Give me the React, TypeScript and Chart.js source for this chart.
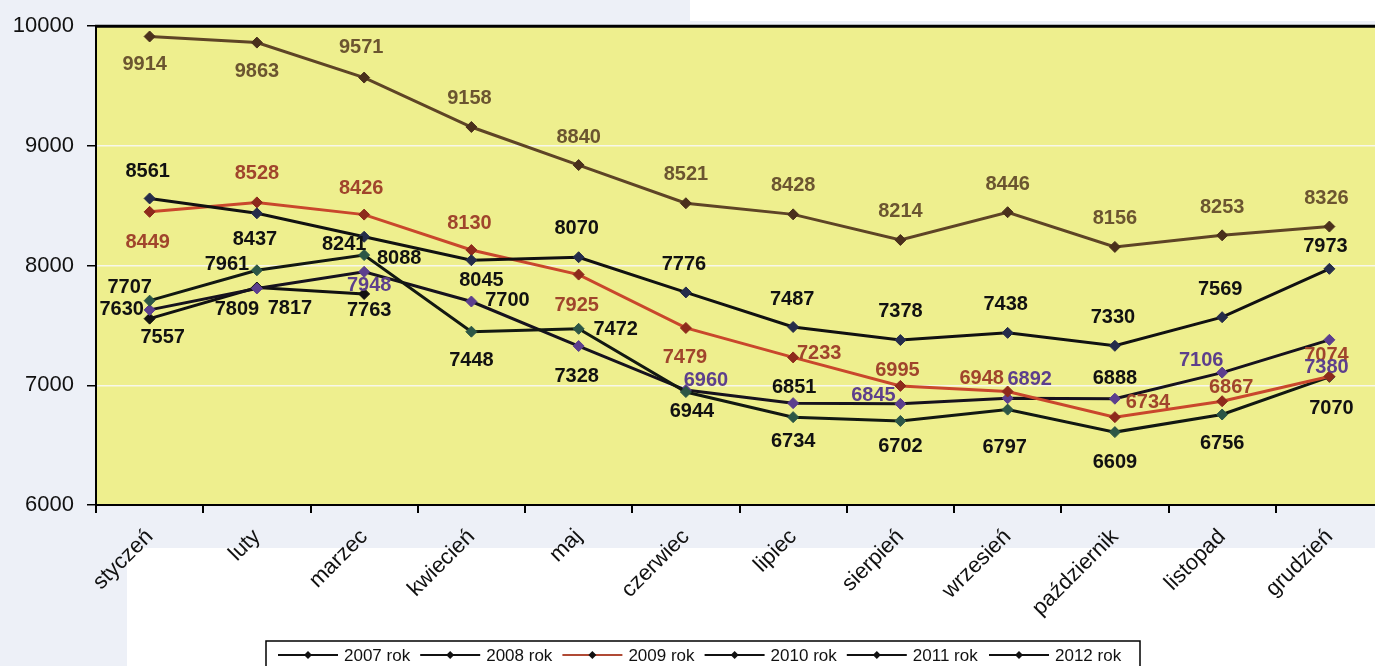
import React, { useEffect, useRef } from 'react';
import { Chart, registerables } from 'chart.js';

Chart.register(...registerables);

// ---- data ----
const months = ['styczeń', 'luty', 'marzec', 'kwiecień', 'maj', 'czerwiec', 'lipiec', 'sierpień', 'wrzesień', 'październik', 'listopad', 'grudzień'];
const seriesNames = ['2007 rok', '2008 rok', '2009 rok', '2010 rok', '2011 rok', '2012 rok'];
const y2007 = [9914, 9863, 9571, 9158, 8840, 8521, 8428, 8214, 8446, 8156, 8253, 8326];
const y2008 = [8561, 8437, 8241, 8045, 8070, 7776, 7487, 7378, 7438, 7330, 7569, 7973];
const y2009 = [8449, 8528, 8426, 8130, 7925, 7479, 7233, 6995, 6948, 6734, 6867, 7074];
const y2010 = [7707, 7961, 8088, 7448, 7472, 6944, 6734, 6702, 6797, 6609, 6756, 7070];
const y2011 = [7630, 7809, 7948, 7700, 7328, 6960, 6851, 6845, 6892, 6888, 7106, 7380];
const y2012 = [7557, 7817, 7763];
const yMin = 6000;
const yMax = 10000;
const yStep = 1000;

// ---- styling (label placement relative to each marker, in px) ----
const labelOffsets: number[][][] = [
  [[-5, 28], [0, 29], [-3, -30], [-2, -29], [0, -28], [0, -29], [0, -29], [0, -28], [0, -28], [0, -28], [0, -28], [-3, -28]],
  [[-2, -27], [-2, 26], [-20, 8], [10, 20], [-2, -29], [-2, -28], [-1, -28], [0, -29], [-2, -28], [-2, -28], [-2, -28], [-4, -22]],
  [[-2, 31], [0, -29], [-3, -26], [-2, -27], [-2, 31], [-1, 30], [26, -4], [-3, -15], [-26, -13], [33, -15], [9, -14], [-3, -21]],
  [[-20, -13], [-30, -6], [35, 3], [0, 29], [37, 1], [6, 19], [0, 24], [0, 26], [-3, 38], [0, 30], [0, 29], [2, 32]],
  [[-28, 0], [-20, 21], [5, 14], [36, -1], [-2, 30], [20, -10], [1, -16], [-27, -8], [22, -19], [0, -20], [-21, -12], [-3, 28]],
  [[13, 19], [33, 21], [5, 17]],
];
const P = '#5d3f8c';
const labelColors: string[][] = [
  Array(12).fill('#6b5530'),
  Array(12).fill('#111111'),
  Array(12).fill('#a0452c'),
  Array(12).fill('#111111'),
  ['#111', '#111', P, '#111', '#111', P, '#111', P, P, '#111', P, P],
  Array(3).fill('#111111'),
];
const lineColors = ['#5e4426', '#111111', '#c9472c', '#121812', '#16121e', '#111111'];
const pointColors = ['#4a301c', '#252c4a', '#8e2a1c', '#2c5646', '#5c3f8e', '#111111'];
const legendLineColors = ['#111', '#111', '#b04a35', '#111', '#111', '#111'];

const FONT = '"Liberation Sans", Arial, Helvetica, sans-serif';

const bgPlugin = {
  id: 'bgPlugin',
  beforeDraw(chart: any) {
    const { ctx, chartArea: a, width, height } = chart;
    ctx.save();
    ctx.fillStyle = '#edf0f7';
    ctx.fillRect(0, 0, width, height);
    ctx.fillStyle = '#ffffff';
    ctx.fillRect(690, 0, width - 690, 21);
    ctx.fillRect(127, 548, width - 127, height - 548);
    ctx.fillStyle = '#eeef8e';
    ctx.fillRect(a.left, a.top, a.right - a.left, a.bottom - a.top);
    ctx.restore();
  },
  beforeDatasetsDraw(chart: any) {
    const { ctx, chartArea: a } = chart;
    ctx.save();
    ctx.strokeStyle = '#000';
    ctx.lineWidth = 3;
    ctx.beginPath();
    ctx.moveTo(a.left - 1, a.top);
    ctx.lineTo(a.right, a.top);
    ctx.stroke();
    ctx.restore();
  },
};

const labelPlugin = {
  id: 'valueLabels',
  afterDatasetsDraw(chart: any) {
    const ctx = chart.ctx;
    ctx.save();
    ctx.font = `bold 20px ${FONT}`;
    ctx.textAlign = 'center';
    ctx.textBaseline = 'middle';
    chart.data.datasets.forEach((ds: any, di: number) => {
      const meta = chart.getDatasetMeta(di);
      meta.data.forEach((pt: any, i: number) => {
        const v = ds.data[i];
        if (v == null) return;
        const o = labelOffsets[di][i] || [0, -28];
        ctx.fillStyle = labelColors[di][i] || '#111';
        ctx.fillText(String(v), pt.x + o[0], pt.y + o[1]);
      });
    });
    ctx.restore();
  },
};

const legendPlugin = {
  id: 'boxLegend',
  afterDraw(chart: any) {
    const ctx = chart.ctx;
    const bx = 266, by = 641, bw = 874, bh = 40;
    ctx.save();
    ctx.fillStyle = '#ffffff';
    ctx.fillRect(bx, by, bw, bh);
    ctx.strokeStyle = '#000';
    ctx.lineWidth = 1.5;
    ctx.strokeRect(bx, by, bw, bh);
    ctx.beginPath();
    ctx.rect(bx, by, bw - 1, bh);
    ctx.clip();
    const cy = 655;
    chart.data.datasets.forEach((ds: any, i: number) => {
      const x0 = 278 + i * 142.2;
      ctx.strokeStyle = legendLineColors[i];
      ctx.lineWidth = 2;
      ctx.beginPath();
      ctx.moveTo(x0, cy);
      ctx.lineTo(x0 + 60, cy);
      ctx.stroke();
      ctx.fillStyle = '#111';
      ctx.beginPath();
      ctx.moveTo(x0 + 30, cy - 4);
      ctx.lineTo(x0 + 34, cy);
      ctx.lineTo(x0 + 30, cy + 4);
      ctx.lineTo(x0 + 26, cy);
      ctx.closePath();
      ctx.fill();
      ctx.font = `17px ${FONT}`;
      ctx.textAlign = 'left';
      ctx.textBaseline = 'middle';
      ctx.fillStyle = '#111';
      ctx.fillText(ds.label, x0 + 66, cy + 1);
    });
    ctx.restore();
  },
};

export default function App() {
  const ref = useRef<HTMLCanvasElement | null>(null);
  useEffect(() => {
    if (!ref.current) return;
    const all = [y2007, y2008, y2009, y2010, y2011, y2012];
    const chart = new Chart(ref.current, {
      type: 'line',
      data: {
        labels: months,
        datasets: all.map((d, i) => ({
          label: seriesNames[i],
          data: d,
          borderColor: lineColors[i],
          backgroundColor: pointColors[i],
          pointBackgroundColor: pointColors[i],
          pointBorderColor: pointColors[i],
          borderWidth: 3,
          pointStyle: 'rectRot',
          pointRadius: 5.5,
          pointBorderWidth: 1,
          tension: 0,
          fill: false,
        })),
      },
      options: {
        responsive: false,
        animation: false,
        devicePixelRatio: 1,
        layout: { padding: { top: 23, right: 17, left: 0, bottom: 0 }, autoPadding: false },
        plugins: { legend: { display: false }, tooltip: { enabled: false }, title: { display: false } },
        scales: {
          x: {
            type: 'category',
            offset: true,
            grid: { offset: true, drawOnChartArea: false, tickColor: '#000', tickLength: 8, lineWidth: 2 },
            border: { display: true, color: '#000', width: 2 },
            ticks: {
              autoSkip: false,
              maxRotation: 45,
              minRotation: 45,
              padding: 11,
              color: '#111',
              font: { family: FONT, size: 22 },
            },
            afterFit: (s: any) => { s.height = 161; },
          },
          y: {
            min: yMin,
            max: yMax,
            ticks: {
              stepSize: yStep,
              color: '#111',
              padding: 13,
              font: { family: FONT, size: 22 },
              callback: (v: any) => String(v),
            },
            grid: { color: '#f7f7ea', lineWidth: 1.5, tickColor: '#000', tickLength: 9 },
            border: { display: true, color: '#000', width: 2 },
            afterFit: (s: any) => { s.width = 96; },
          },
        },
      },
      plugins: [bgPlugin, labelPlugin, legendPlugin],
    });
    return () => chart.destroy();
  }, []);
  return (
    <div style={{ position: 'fixed', left: 0, top: 0, width: '1375px', height: '666px', overflow: 'hidden' }}>
      <canvas ref={ref} width={1400} height={666} style={{ width: '1400px', height: '666px', display: 'block' }} />
    </div>
  );
}
